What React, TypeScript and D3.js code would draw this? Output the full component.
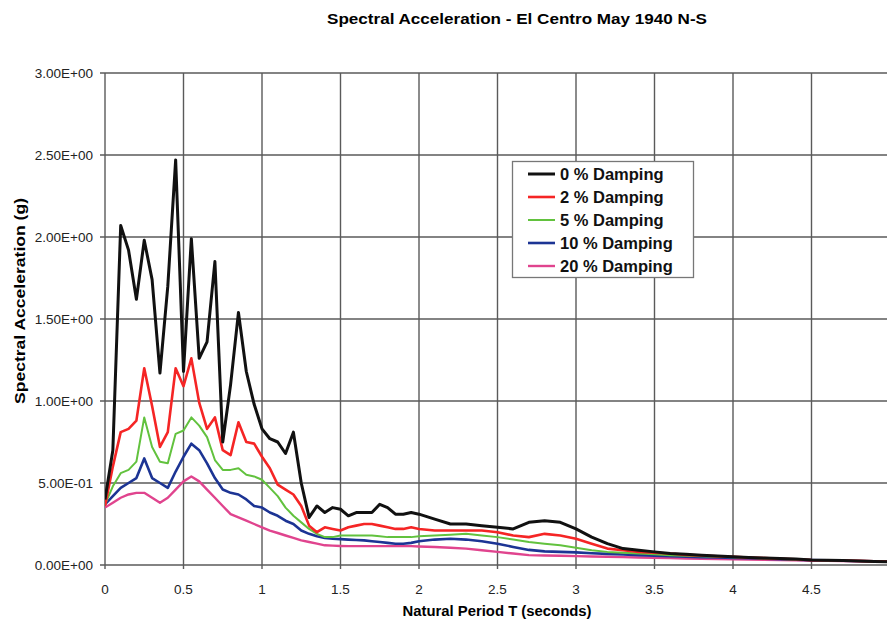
import * as d3 from "d3";
import { useRef, useEffect, ReactElement } from "react";

// periods (s): 0.05 steps up to 2.0, then 0.1 steps
const periods = [
  0, 0.05, 0.1, 0.15, 0.2, 0.25, 0.3, 0.35, 0.4, 0.45, 0.5, 0.55, 0.6, 0.65, 0.7, 0.75, 0.8, 0.85, 0.9, 0.95,
  1.0, 1.05, 1.1, 1.15, 1.2, 1.25, 1.3, 1.35, 1.4, 1.45, 1.5, 1.55, 1.6, 1.65, 1.7, 1.75, 1.8, 1.85, 1.9, 1.95,
  2.0, 2.1, 2.2, 2.3, 2.4, 2.5, 2.6, 2.7, 2.8, 2.9, 3.0, 3.1, 3.2, 3.3, 3.4, 3.5, 3.6, 3.7, 3.8, 3.9,
  4.0, 4.1, 4.2, 4.3, 4.4, 4.5, 4.6, 4.7, 4.8, 4.9, 5.0,
];

const damp0 = [
  0.4, 0.7, 2.07, 1.92, 1.62, 1.98, 1.74, 1.17, 1.7, 2.47, 1.18, 1.99, 1.26, 1.36, 1.85, 0.75, 1.1, 1.54, 1.18, 0.98,
  0.83, 0.77, 0.75, 0.68, 0.81, 0.5, 0.29, 0.36, 0.32, 0.35, 0.34, 0.3, 0.32, 0.32, 0.32, 0.37, 0.35, 0.31, 0.31, 0.32,
  0.31, 0.28, 0.25, 0.25, 0.24, 0.23, 0.22, 0.26, 0.27, 0.26, 0.22, 0.17, 0.13, 0.1, 0.09, 0.08, 0.07, 0.065, 0.06, 0.055,
  0.05, 0.045, 0.042, 0.04, 0.037, 0.03, 0.029, 0.027, 0.025, 0.022, 0.02,
];
const damp2 = [
  0.36, 0.6, 0.81, 0.83, 0.88, 1.2, 0.97, 0.72, 0.81, 1.2, 1.09, 1.26, 0.99, 0.83, 0.9, 0.7, 0.67, 0.87, 0.75, 0.74,
  0.66, 0.59, 0.49, 0.46, 0.43, 0.36, 0.24, 0.2, 0.23, 0.22, 0.21, 0.23, 0.24, 0.25, 0.25, 0.24, 0.23, 0.22, 0.22, 0.23,
  0.22, 0.21, 0.21, 0.21, 0.21, 0.2, 0.18, 0.17, 0.19, 0.18, 0.16, 0.13, 0.1, 0.09, 0.08, 0.075, 0.07, 0.062, 0.058, 0.053,
  0.05, 0.045, 0.042, 0.038, 0.035, 0.03, 0.029, 0.027, 0.025, 0.022, 0.02,
];
const damp5 = [
  0.37, 0.48, 0.56, 0.58, 0.63, 0.9, 0.72, 0.63, 0.62, 0.8, 0.82, 0.9, 0.85, 0.78, 0.64, 0.58, 0.58, 0.59, 0.55, 0.54,
  0.52, 0.47, 0.42, 0.35, 0.3, 0.26, 0.22, 0.19, 0.17, 0.17, 0.18, 0.18, 0.18, 0.18, 0.18, 0.175, 0.17, 0.17, 0.17, 0.17,
  0.175, 0.18, 0.185, 0.19, 0.18, 0.17, 0.155, 0.14, 0.13, 0.12, 0.105, 0.09, 0.08, 0.075, 0.07, 0.065, 0.06, 0.057, 0.054, 0.05,
  0.047, 0.044, 0.04, 0.037, 0.034, 0.03, 0.028, 0.026, 0.024, 0.022, 0.02,
];
const damp10 = [
  0.37, 0.42, 0.47, 0.5, 0.53, 0.65, 0.53, 0.5, 0.47, 0.57, 0.66, 0.74, 0.7, 0.62, 0.53, 0.46, 0.44, 0.43, 0.4, 0.36,
  0.35, 0.32, 0.3, 0.27, 0.25, 0.21, 0.19, 0.175, 0.165, 0.16, 0.158, 0.155, 0.152, 0.15, 0.145, 0.14, 0.135, 0.13, 0.13, 0.135,
  0.145, 0.155, 0.16, 0.155, 0.145, 0.13, 0.11, 0.092, 0.083, 0.08, 0.077, 0.072, 0.068, 0.064, 0.06, 0.057, 0.054, 0.051, 0.048, 0.046,
  0.043, 0.041, 0.038, 0.036, 0.033, 0.03, 0.028, 0.026, 0.024, 0.022, 0.02,
];
const damp20 = [
  0.35, 0.38, 0.41, 0.43, 0.44, 0.44, 0.41, 0.38, 0.41, 0.46, 0.51, 0.54, 0.51, 0.46, 0.41, 0.36, 0.31, 0.29, 0.27, 0.25,
  0.23, 0.21, 0.195, 0.18, 0.165, 0.15, 0.14, 0.13, 0.12, 0.118, 0.116, 0.115, 0.115, 0.115, 0.115, 0.115, 0.115, 0.115, 0.115, 0.115,
  0.113, 0.11, 0.105, 0.1, 0.09, 0.08, 0.07, 0.06, 0.058, 0.056, 0.054, 0.052, 0.05, 0.048, 0.046, 0.044, 0.042, 0.04, 0.038, 0.036,
  0.035, 0.033, 0.031, 0.03, 0.028, 0.027, 0.025, 0.024, 0.022, 0.021, 0.02,
];

const seriesNames = ["0 % Damping", "2 % Damping", "5 % Damping", "10 % Damping", "20 % Damping"];
const seriesColors = ["#111111", "#f52525", "#62c23e", "#1c3494", "#e0448e"];
const seriesWidths = [3, 2.6, 2, 2.6, 2.4];

const yTicks = [0, 0.5, 1, 1.5, 2, 2.5, 3];
const yTickLabels = ["0.00E+00", "5.00E-01", "1.00E+00", "1.50E+00", "2.00E+00", "2.50E+00", "3.00E+00"];
// the 5 s gridline sits at the right edge; its label falls outside the picture
const xTicks = [0, 0.5, 1, 1.5, 2, 2.5, 3, 3.5, 4, 4.5, 5];
const xTickLabels = ["0", "0.5", "1", "1.5", "2", "2.5", "3", "3.5", "4", "4.5"];

const WIDTH = 887;
const HEIGHT = 620;
const FONT = "'Liberation Sans', Arial, Helvetica, sans-serif";

const SpectraChart = (): ReactElement => {
    const svgRef = useRef(null);

    useEffect(() => {
        if (!svgRef.current) return;
        const svg = d3.select(svgRef.current);

        const marginLeft = 105, marginTop = 73, plotRight = 890, plotBottom = 565;

        const xScale = d3.scaleLinear().domain([0, 5]).range([marginLeft, plotRight]);
        const yScale = d3.scaleLinear().domain([0, 3]).range([plotBottom, marginTop]);

        // title
        svg.append("text")
            .attr("x", 517).attr("y", 24)
            .attr("text-anchor", "middle")
            .attr("font-family", FONT).attr("font-weight", "bold").attr("font-size", 14)
            .attr("textLength", 380).attr("lengthAdjust", "spacingAndGlyphs")
            .text("Spectral Acceleration - El Centro May 1940 N-S");

        // grid
        const grid = svg.append("g").attr("stroke", "#5a5a5a").attr("stroke-width", 1.4);
        grid.selectAll("line.h").data(yTicks).enter().append("line")
            .attr("x1", xScale(0) - 5).attr("x2", xScale(5))
            .attr("y1", (d) => yScale(d)).attr("y2", (d) => yScale(d));
        grid.selectAll("line.v").data(xTicks).enter().append("line")
            .attr("x1", (d) => xScale(d)).attr("x2", (d) => xScale(d))
            .attr("y1", yScale(3)).attr("y2", yScale(0) + 4);

        // y labels
        svg.append("g").selectAll("text").data(yTicks).enter().append("text")
            .attr("x", 93).attr("y", (d) => yScale(d)).attr("dy", "0.36em")
            .attr("text-anchor", "end")
            .attr("font-family", FONT).attr("font-size", 13.5).attr("fill", "#222")
            .text((d, i) => yTickLabels[i]);

        // x labels
        svg.append("g").selectAll("text").data(xTickLabels).enter().append("text")
            .attr("x", (d, i) => xScale(xTicks[i])).attr("y", 594)
            .attr("text-anchor", "middle")
            .attr("font-family", FONT).attr("font-size", 13.5).attr("fill", "#222")
            .text((d) => d);

        svg.append("text")
            .attr("x", 497).attr("y", 616)
            .attr("text-anchor", "middle")
            .attr("font-family", FONT).attr("font-weight", "bold").attr("font-size", 14)
            .attr("textLength", 189).attr("lengthAdjust", "spacingAndGlyphs")
            .text("Natural Period T (seconds)");

        svg.append("text")
            .attr("transform", "translate(25,301) rotate(-90)")
            .attr("text-anchor", "middle")
            .attr("font-family", FONT).attr("font-weight", "bold").attr("font-size", 14)
            .attr("textLength", 206).attr("lengthAdjust", "spacingAndGlyphs")
            .text("Spectral Acceleration (g)");

        // series, drawn from 20% up so black is on top
        const allSeries = [damp0, damp2, damp5, damp10, damp20];
        const line = d3.line<number>()
            .x((d, i) => xScale(periods[i]))
            .y((d) => yScale(d));

        const clipId = "plot-clip";
        svg.append("clipPath").attr("id", clipId)
            .append("rect").attr("x", marginLeft).attr("y", marginTop - 2)
            .attr("width", plotRight - marginLeft).attr("height", plotBottom - marginTop + 2);

        svg.append("g").attr("clip-path", `url(#${clipId})`)
            .selectAll("path").data(allSeries.map((s, i) => i).reverse()).enter().append("path")
            .attr("d", (i) => line(allSeries[i]))
            .attr("fill", "none")
            .attr("stroke", (i) => seriesColors[i])
            .attr("stroke-width", (i) => seriesWidths[i])
            .attr("stroke-linejoin", "round");

        // legend
        const legend = svg.append("g");
        legend.append("rect")
            .attr("x", 512.5).attr("y", 161.5).attr("width", 181).attr("height", 116)
            .attr("fill", "#fff").attr("stroke", "#777").attr("stroke-width", 1.3);
        const rows = legend.selectAll("g").data(seriesNames).enter().append("g")
            .attr("transform", (d, i) => `translate(0,${174 + i * 23})`);
        rows.append("line")
            .attr("x1", 528).attr("x2", 555).attr("y1", 0).attr("y2", 0)
            .attr("stroke", (d, i) => seriesColors[i])
            .attr("stroke-width", (d, i) => seriesWidths[i]);
        rows.append("text")
            .attr("x", 560).attr("y", 6)
            .attr("font-family", FONT).attr("font-weight", "bold").attr("font-size", 16.5).attr("fill", "#111")
            .text((d) => d);

        return () => {
            svg.selectAll("*").remove();
        };
    }, []);

    return (
        <svg width={WIDTH} height={HEIGHT} ref={svgRef}
            style={{ position: "absolute", left: 0, top: 0, background: "#fff" }}></svg>
    );
};

export default function App(): ReactElement {
    return <SpectraChart />;
}
